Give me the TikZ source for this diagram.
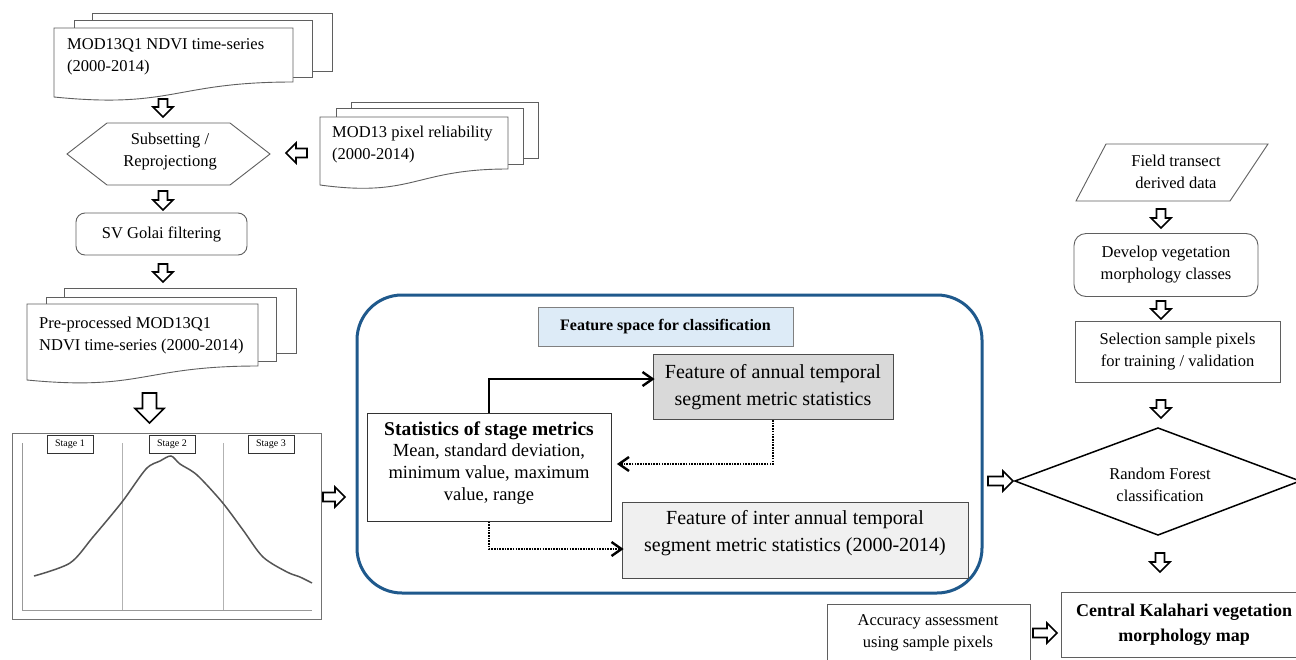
\documentclass[tikz,border=0pt]{standalone}
\usepackage{fontspec}
\setmainfont{Liberation Serif}
\usetikzlibrary{calc}
\definecolor{bluebox}{RGB}{31,89,140}
\definecolor{lightblue}{RGB}{221,235,247}
\definecolor{annualgray}{RGB}{217,217,217}
\definecolor{intergray}{RGB}{240,240,240}
\definecolor{edge}{RGB}{95,95,95}
\definecolor{curvegray}{RGB}{85,85,85}

\newcommand{\arrdown}[5]{%
  \draw[blockarr] ({#1-#5/2},#2) -- ({#1+#5/2},#2) -- ({#1+#5/2},{#2+#3-#4/2}) -- ({#1+#4/2},{#2+#3-#4/2}) -- (#1,{#2+#3}) -- ({#1-#4/2},{#2+#3-#4/2}) -- ({#1-#5/2},{#2+#3-#4/2}) -- cycle;}
\newcommand{\arrright}[5]{%
  \draw[blockarr] (#1,{#2-#5/2}) -- ({#1+#3-#4/2},{#2-#5/2}) -- ({#1+#3-#4/2},{#2-#4/2}) -- ({#1+#3},#2) -- ({#1+#3-#4/2},{#2+#4/2}) -- ({#1+#3-#4/2},{#2+#5/2}) -- (#1,{#2+#5/2}) -- cycle;}
\newcommand{\arrleft}[5]{%
  \draw[blockarr] (#1,{#2-#5/2}) -- ({#1-#3+#4/2},{#2-#5/2}) -- ({#1-#3+#4/2},{#2-#4/2}) -- ({#1-#3},#2) -- ({#1-#3+#4/2},{#2+#4/2}) -- ({#1-#3+#4/2},{#2+#5/2}) -- (#1,{#2+#5/2}) -- cycle;}
\newcommand{\docfront}[5]{%
  \filldraw[docline] (#1,#2) -- (#3,#2) -- (#3,#5) .. controls ({(#1+#3)/2},#5) and ({(#1+#3)/2},{#5+1.8*(#4-#5)}) .. (#1,#4) -- cycle;}

\tikzset{
  docline/.style={draw=edge, fill=white, line width=0.9pt},
  plainbox/.style={draw=edge, line width=0.9pt, fill=white, inner sep=0pt},
  txt/.style={inner sep=0pt, align=center},
  ltxt/.style={inner sep=0pt, align=left, anchor=west},
  blockarr/.style={draw=black, line width=1.6pt, fill=white, line join=miter},
  stagebox/.style={draw=black!80, line width=0.8pt, fill=white, minimum width=46pt, minimum height=18pt, inner sep=0pt, font=\fontsize{10}{11}\selectfont},
  chev/.style={line width=2.4pt, line join=miter},
  dots/.style={line width=2.4pt, dash pattern=on 1.6pt off 1.1pt}
}

\begin{document}
\begin{tikzpicture}[x=1pt,y=-1pt,font=\fontsize{16.5}{22}\selectfont]
\useasboundingbox (0,0) rectangle (1296,659);
\fill[white] (0,0) rectangle (1296,659);

% ---------- MOD13Q1 stack
\filldraw[docline] (92,13) rectangle (332,71);
\filldraw[docline] (74,20) rectangle (312,77);
\docfront{54}{28}{293}{97}{82}
\node[ltxt] (mod13q1) at (67,57) {MOD13Q1 NDVI time-series\\(2000-2014)};

% ---------- pixel reliability stack
\filldraw[docline] (351,102) rectangle (538,158);
\filldraw[docline] (336,108) rectangle (523,164);
\docfront{320}{117}{508}{185}{169}
\node[ltxt] (pixrel) at (332,145) {MOD13 pixel reliability\\(2000-2014)};

% ---------- hexagon
\filldraw[docline] (67,154) -- (107,123) -- (230,123) -- (270,154) -- (230,185) -- (107,185) -- cycle;
\node[txt] (subset) at (170,152) {Subsetting /\\Reprojectiong};

% ---------- SV Golai
\node[plainbox, rounded corners=9pt, minimum width=171pt, minimum height=42pt] (svg) at (161.5,234) {SV Golai filtering};

% ---------- pre-processed stack
\filldraw[docline] (64,288) rectangle (296,353);
\filldraw[docline] (46,297) rectangle (276,361);
\docfront{27}{304}{258}{380}{366}
\node[ltxt] (prep) at (39,336) {Pre-processed MOD13Q1\\NDVI time-series (2000-2014)};

% ---------- chart
\draw[draw=black!55, line width=1pt] (12,433) rectangle (321,619);
\node[inner sep=0pt] (chart) at (166.5,526) {};
\draw[black!30, line width=0.7pt] (122,443) -- (122,610);
\draw[black!30, line width=0.7pt] (223,443) -- (223,610);
\draw[black!40, line width=0.8pt] (22,443) -- (22,610) -- (312,610);
\draw[curvegray, line width=1.5pt] plot[smooth, tension=0.5] coordinates {
 (34,576) (70,563) (93,537) (122,502) (146,469) (160,461) (171,456) (180,464) (197,475) (222,502) (243,530) (263,557) (287,572) (300,577) (312,583)};
\node[stagebox] (st1) at (70,444) {Stage 1};
\node[stagebox] (st2) at (172,444) {Stage 2};
\node[stagebox] (st3) at (271,444) {Stage 3};

% ---------- left column arrows
\arrdown{163}{99}{18}{20}{9}
\arrleft{307}{153}{21}{20}{9}
\arrdown{163}{191}{19}{20}{9}
\arrdown{163}{264}{18}{20}{9}
\arrdown{149.5}{393}{30}{29}{14}
\arrright{323}{497}{22}{20}{9}

% ---------- feature space
\node[draw=bluebox, line width=3pt, rounded corners=45pt, minimum width=625pt, minimum height=298pt, inner sep=0pt] (fsbox) at (669.5,444) {};
\node[draw=black!50, line width=0.9pt, fill=lightblue, minimum width=255pt, minimum height=39pt, inner sep=0pt, font=\fontsize{16}{18}\selectfont\bfseries] (fstitle) at (665.5,326.5) {Feature space for classification};
\node[draw=black!70, line width=1pt, fill=annualgray, minimum width=240pt, minimum height=65pt, inner sep=0pt, align=center, font=\fontsize{20}{27}\selectfont] (annual) at (773,387) {Feature of annual temporal\\segment metric statistics};
\node[draw=black!80, line width=1pt, fill=white, minimum width=244pt, minimum height=108pt, inner sep=0pt] (stats) at (489,467) {};
\node[txt] (statstxt) at (489,463) {{\fontsize{19.5}{21}\selectfont\bfseries Statistics of stage metrics}\\[-1pt]\fontsize{18.5}{21}\selectfont Mean, standard deviation,\\\fontsize{18.5}{21}\selectfont minimum value, maximum\\\fontsize{18.5}{21}\selectfont value, range};
\node[draw=black!70, line width=1pt, fill=intergray, minimum width=346pt, minimum height=76pt, inner sep=0pt] (inter) at (795,540) {};
\node[txt, font=\fontsize{20}{27}\selectfont] (intertxt) at (795,533) {Feature of inter annual temporal\\segment metric statistics (2000-2014)};
\coordinate (tipA) at ([yshift=8pt]annual.west);
\coordinate (tipB) at (619,464);
\coordinate (tipC) at ([yshift=-9pt]inter.west);
\draw[line width=2pt] (stats.north) |- (tipA);
\draw[chev] (tipA) ++(-10,-7) -- (tipA) -- ++(-10,7);
\draw[dots] (annual.south) |- (tipB);
\draw[chev] (tipB) ++(10,-7) -- (tipB) -- ++(10,7);
\draw[dots] (stats.south) |- (tipC);
\draw[chev] (tipC) ++(-10,-7) -- (tipC) -- ++(-10,7);

% ---------- right column
\filldraw[docline] (1106,144) -- (1268,144) -- (1230,201) -- (1076,201) -- cycle;
\node[txt] (field) at (1176,172) {Field transect\\derived data};
\arrdown{1161}{209}{19}{20}{9}
\node[plainbox, rounded corners=12pt, minimum width=184pt, minimum height=63pt, align=center] (develop) at (1166,265) {Develop vegetation\\morphology classes};
\arrdown{1161}{301}{18}{20}{9}
\node[plainbox, minimum width=205pt, minimum height=61pt, align=center] (select) at (1177.5,352) {Selection sample pixels\\for training / validation};
\arrdown{1161}{400}{18}{20}{9}
\draw[black, line width=1.5pt, fill=white] (1015,481) -- (1158,428) -- (1300,481) -- (1158,535) -- cycle;
\node[inner sep=0pt] (rf) at (1158,481) {};
\begin{scope}
\clip (1000,420) rectangle (1300,501);
\node[txt] (rftxt) at (1160,485) {Random Forest\\classification};
\end{scope}
\arrright{988}{481}{25}{20}{9}
\arrdown{1160}{553}{19}{20}{9}
\node[plainbox, minimum width=246pt, minimum height=65pt, align=center, font=\fontsize{18}{25}\selectfont\bfseries] (kalahari) at (1184,624.5) {Central Kalahari vegetation\\morphology map};
\draw[edge, line width=0.9pt] (827,665) |- (1030,604) -- (1030,665);
\node[txt] (accuracy) at (928,633) {Accuracy assessment\\using sample pixels};
\arrright{1033}{633}{24}{20}{9}
\end{tikzpicture}
\end{document}
